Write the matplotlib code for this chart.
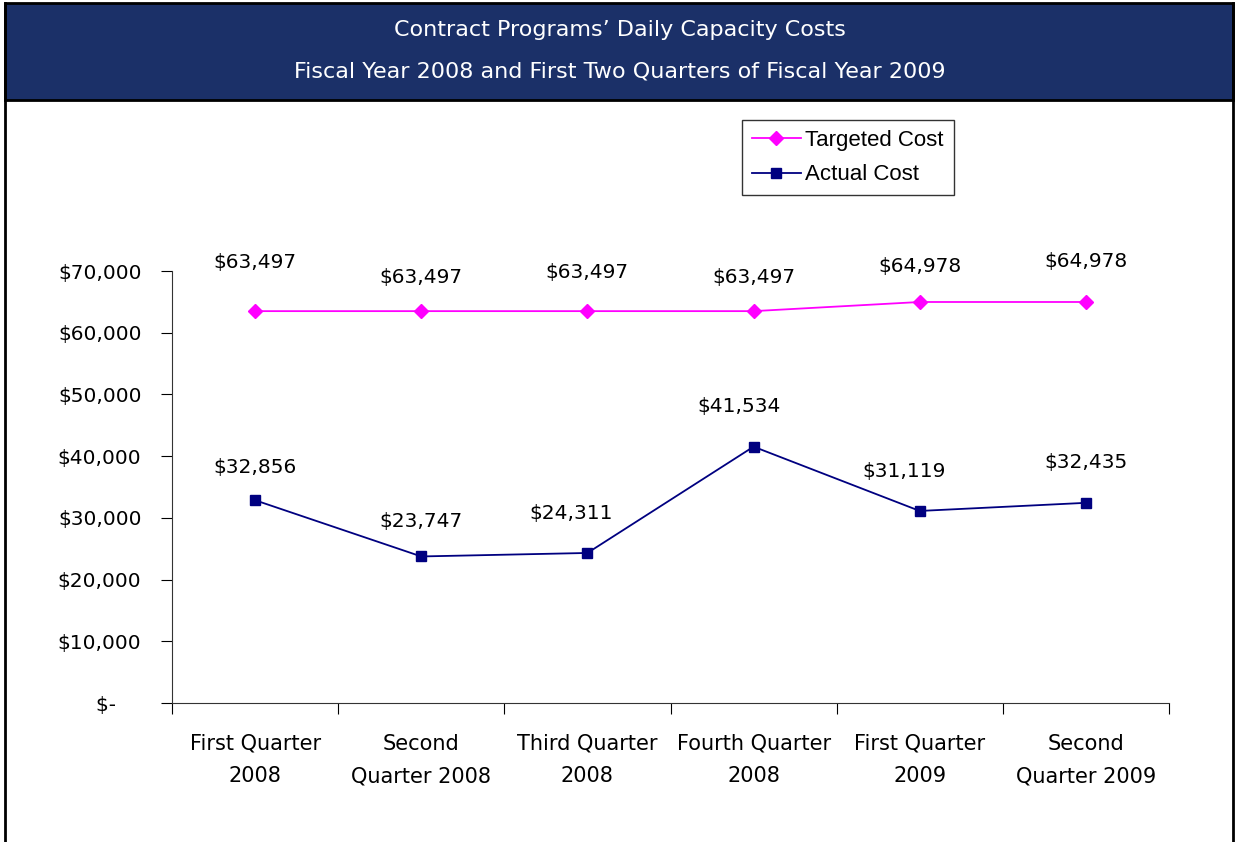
"""Contract programs' daily capacity costs, FY2008 - Q2 FY2009."""
import matplotlib.pyplot as plt
from matplotlib.lines import Line2D
from matplotlib.patches import Rectangle

categories = ["First Quarter\n2008", "Second\nQuarter 2008", "Third Quarter\n2008",
              "Fourth Quarter\n2008", "First Quarter\n2009", "Second\nQuarter 2009"]
targeted = [63497, 63497, 63497, 63497, 64978, 64978]
actual = [32856, 23747, 24311, 41534, 31119, 32435]
y_ticks = [0, 10000, 20000, 30000, 40000, 50000, 60000, 70000]
y_labels = ["$-    ", "$10,000", "$20,000", "$30,000", "$40,000", "$50,000", "$60,000", "$70,000"]

# label offsets in pixels (dx, dy) as placed in the original
targ_off = [(0, 49), (0, 34), (0, 39), (0, 34), (0, 35), (0, 40)]
act_off = [(0, 33), (0, 35), (-16, 39), (-15, 40), (-16, 39), (0, 40)]

NAVY = "#1b3068"
TARG = "#ff00ff"
ACT = "#000080"
FONT = "DejaVu Sans"

fig = plt.figure(figsize=(12.39, 8.42), dpi=100)
px = 72 / fig.dpi

# header band and frame
fig.patches.append(Rectangle((5 / 1239, 1 - 100 / 842), 1228 / 1239, 97 / 842,
                             transform=fig.transFigure, facecolor=NAVY,
                             edgecolor="black", linewidth=2, zorder=0))
for xs, ys in [([5 / 1239, 5 / 1239], [0, 1 - 3 / 842]),
               ([1233 / 1239, 1233 / 1239], [0, 1 - 3 / 842])]:
    fig.lines.append(Line2D(xs, ys, transform=fig.transFigure, color="black", lw=2))
fig.text(0.5, 1 - 30 / 842, "Contract Programs\u2019 Daily Capacity Costs", ha="center",
         va="center", color="white", fontsize=16, family=FONT)
fig.text(0.5, 1 - 72 / 842, "Fiscal Year 2008 and First Two Quarters of Fiscal Year 2009",
         ha="center", va="center", color="white", fontsize=16, family=FONT)

ax = fig.add_axes([172 / 1239, 1 - 703 / 842, 997 / 1239, 432 / 842])
xs = [i + 0.5 for i in range(len(categories))]
ax.plot(xs, targeted, color=TARG, marker="D", markersize=7, lw=1.3, label="Targeted Cost")
ax.plot(xs, actual, color=ACT, marker="s", markersize=7, lw=1.3, label="Actual Cost")

for x, v, (dx, dy) in zip(xs, targeted, targ_off):
    ax.annotate(f"${v:,}", (x, v), xytext=(dx * px, dy * px), textcoords="offset points",
                ha="center", va="center", fontsize=14.5, family=FONT)
for x, v, (dx, dy) in zip(xs, actual, act_off):
    ax.annotate(f"${v:,}", (x, v), xytext=(dx * px, dy * px), textcoords="offset points",
                ha="center", va="center", fontsize=14.5, family=FONT)

ax.set_xlim(0, len(categories))
ax.set_ylim(0, 70000)
ax.set_yticks(y_ticks)
ax.set_yticklabels(y_labels, fontsize=14.5, family=FONT)
ax.set_xticks(range(len(categories) + 1))
ax.set_xticklabels([])
ax.set_xticks(xs, minor=True)
ax.set_xticklabels(categories, minor=True, fontsize=15, family=FONT, linespacing=1.8)
ax.tick_params(axis="x", which="minor", length=0, pad=22)
ax.tick_params(axis="x", which="major", length=8, direction="out")
ax.tick_params(axis="y", length=8, direction="out", pad=14)
for s in ["top", "right"]:
    ax.spines[s].set_visible(False)
for s in ["left", "bottom"]:
    ax.spines[s].set_color("#333333")

leg = ax.legend(loc="upper left", bbox_to_anchor=(742 / 1239, 1 - 120 / 842),
                bbox_transform=fig.transFigure, frameon=True, fancybox=False,
                prop={"family": "Liberation Sans", "size": 16}, handlelength=2.2,
                handletextpad=0.2, borderpad=0.45, labelspacing=0.6, borderaxespad=0)
leg.get_frame().set_edgecolor("black")
leg.get_frame().set_linewidth(1)

fig.savefig("out.png", dpi=100)
